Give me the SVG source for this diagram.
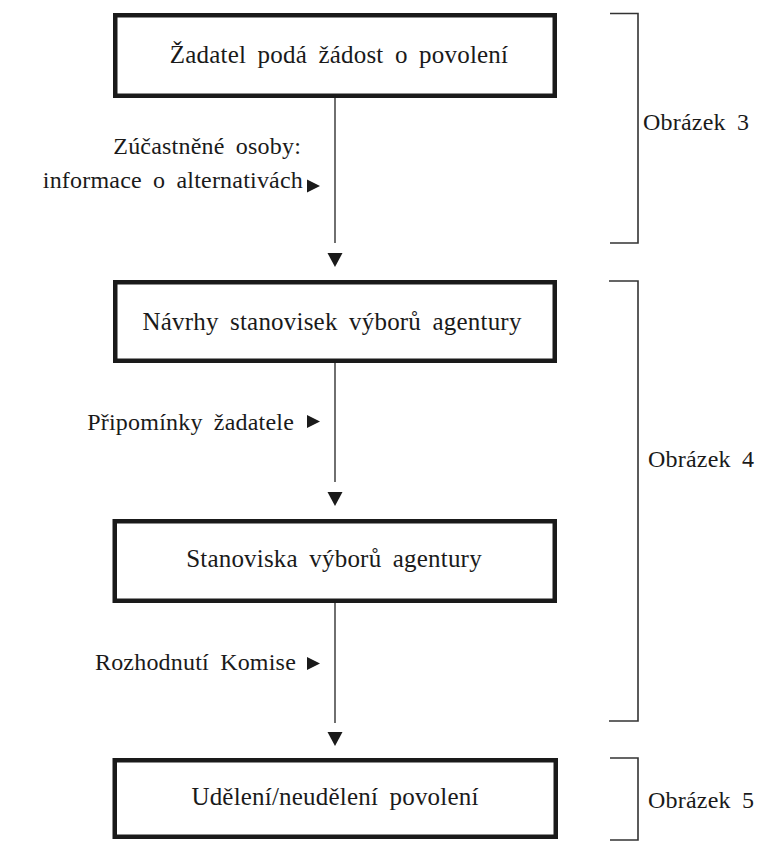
<svg xmlns="http://www.w3.org/2000/svg" width="757" height="841" viewBox="0 0 757 841">
  <style>
    .box { fill: #ffffff; stroke: #1a1a1a; stroke-width: 4.5; }
    .txt { font-family: "Liberation Serif", "Times New Roman", serif; font-size: 25px; fill: #1a1a1a; letter-spacing: 0.2px; word-spacing: 5px; }
    .small { font-size: 24px; }
    .mid { text-anchor: middle; }
    .end { text-anchor: end; }
    .conn { stroke: #333333; stroke-width: 1.4; fill: none; }
    .head { fill: #1a1a1a; }
    .brk { stroke: #333333; stroke-width: 1.6; fill: none; }
  </style>
  <rect width="757" height="841" fill="#ffffff"/>

  <!-- process steps -->
  <g id="step-application">
    <rect class="box" x="115.25" y="15.25" width="439.5" height="80.5"/>
    <text class="txt mid" x="339" y="63">Žadatel podá žádost o povolení</text>
  </g>
  <g id="step-draft-opinions">
    <rect class="box" x="115.25" y="282.25" width="439.5" height="78.5"/>
    <text class="txt mid" x="332" y="330">Návrhy stanovisek výborů agentury</text>
  </g>
  <g id="step-opinions">
    <rect class="box" x="114.75" y="521.25" width="440" height="79.5"/>
    <text class="txt mid" x="334" y="567">Stanoviska výborů agentury</text>
  </g>
  <g id="step-decision">
    <rect class="box" x="114.75" y="760.25" width="441" height="76.5"/>
    <text class="txt mid" x="335" y="805">Udělení/neudělení povolení</text>
  </g>

  <!-- connectors between steps, with their side inputs -->
  <g id="connectors">
    <line class="conn" x1="335" y1="98" x2="335" y2="243"/>
    <polygon class="head" points="327.5,253 342.5,253 335,267"/>
    <line class="conn" x1="335" y1="363" x2="335" y2="482"/>
    <polygon class="head" points="327.5,492 342.5,492 335,506"/>
    <line class="conn" x1="335" y1="603" x2="335" y2="723"/>
    <polygon class="head" points="327.5,732 342.5,732 335,746"/>

    <text class="txt small end" x="301" y="154">Zúčastněné osoby:</text>
    <text class="txt small end" x="303" y="188">informace o alternativách</text>
    <polygon class="head" points="307,179.5 320,186 307,192.5"/>

    <text class="txt small end" x="294" y="430">Připomínky žadatele</text>
    <polygon class="head" points="307,415 320,421.5 307,428"/>

    <text class="txt small end" x="296" y="670">Rozhodnutí Komise</text>
    <polygon class="head" points="307,657 320,663.5 307,670"/>
  </g>

  <!-- section brackets -->
  <g id="section-3">
    <polyline class="brk" points="610,13.5 638,13.5 638,243 610,243"/>
    <text class="txt small" x="643" y="130">Obrázek 3</text>
  </g>
  <g id="section-4">
    <polyline class="brk" points="609,281 638,281 638,721 609,721"/>
    <text class="txt small" x="648" y="467">Obrázek 4</text>
  </g>
  <g id="section-5">
    <polyline class="brk" points="610,758 638,758 638,840 610,840"/>
    <text class="txt small" x="648" y="808">Obrázek 5</text>
  </g>
</svg>
